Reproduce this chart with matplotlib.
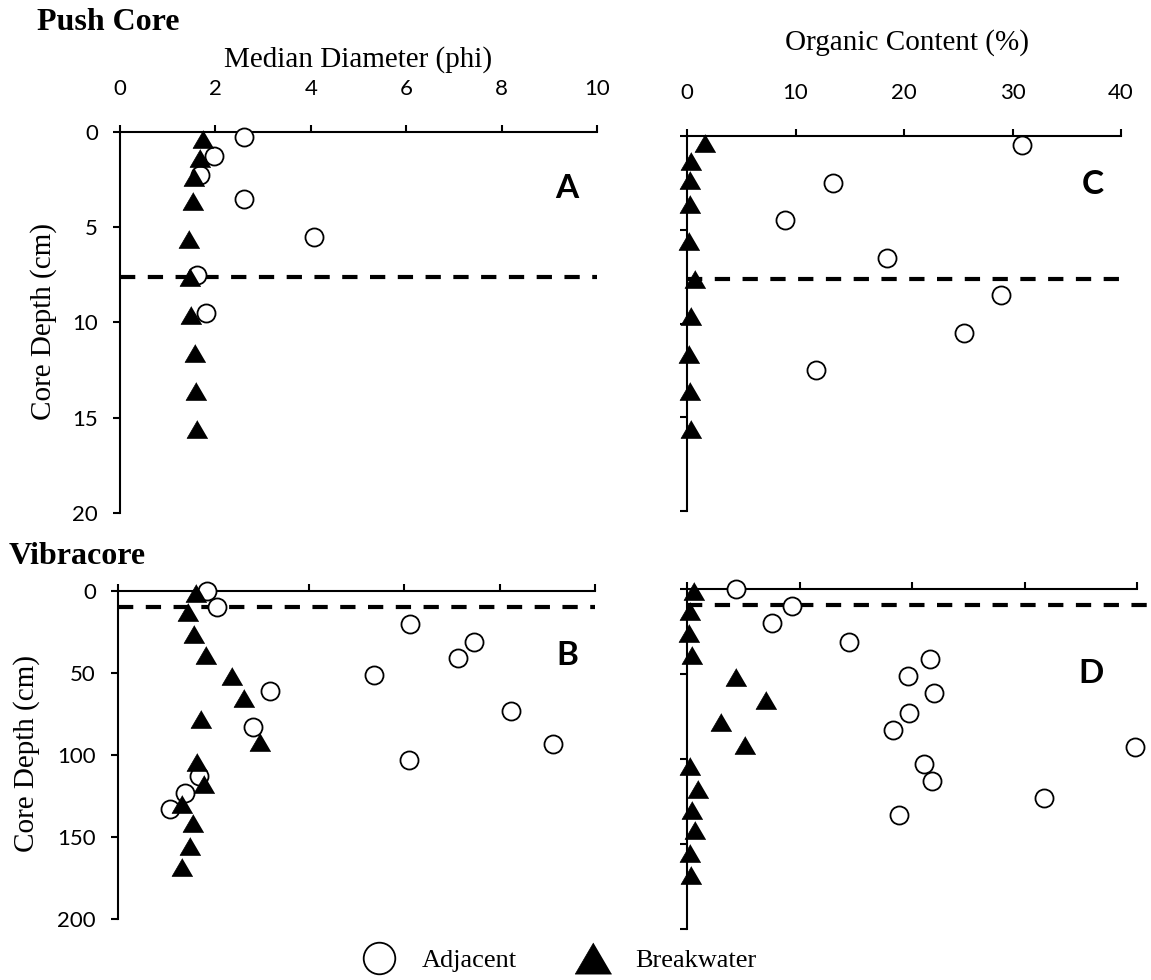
import matplotlib
matplotlib.use("Agg")
import matplotlib.pyplot as plt

plt.rcParams["lines.scale_dashes"] = False

# ---- Push core (depth in cm) ----
pc_adj_depth = [0.25, 1.25, 2.25, 3.5, 5.5, 7.5, 9.5]
pc_adj_phi = [2.60, 1.98, 1.68, 2.61, 4.07, 1.62, 1.81]
pc_adj_org_depth = [0.5, 2.5, 4.5, 6.5, 8.5, 10.5, 12.5]
pc_adj_org = [30.9, 13.5, 9.0, 18.4, 28.9, 25.5, 11.9]
pc_bw_depth = [0.35, 1.35, 2.35, 3.6, 5.6, 7.6, 9.6, 11.6, 13.6, 15.6]
pc_bw_phi = [1.74, 1.68, 1.56, 1.54, 1.44, 1.46, 1.49, 1.58, 1.60, 1.62]
pc_bw_org = [1.7, 0.4, 0.25, 0.25, 0.15, 0.7, 0.35, 0.2, 0.3, 0.35]
pc_boundary = 7.6

# ---- Vibracore (depth in cm) ----
vc_adj_depth = [0, 10, 20, 31, 41, 51, 61, 73, 83, 93, 103, 113, 123, 133]
vc_adj_phi = [1.87, 2.08, 6.12, 7.47, 7.12, 5.36, 3.19, 8.23, 2.82, 9.11,
              6.10, 1.69, 1.40, 1.10]
vc_adj_org = [4.36, 9.30, 7.59, 14.39, 21.6, 19.66, 21.96, 19.72, 18.33, 39.8,
              21.05, 21.8, 31.75, 18.8]
vc_bw_depth = [1, 13, 26, 39, 52, 65.5, 78, 92, 104, 117.5, 130, 141.5, 155.5, 168]
vc_bw_phi = [1.63, 1.46, 1.60, 1.85, 2.38, 2.65, 1.75, 2.98, 1.65, 1.80,
             1.35, 1.58, 1.50, 1.34]
vc_bw_org = [0.6, 0.3, 0.2, 0.45, 4.33, 7.04, 3.01, 5.18, 0.27, 1.02,
             0.45, 0.75, 0.27, 0.36]
vc_boundary = 9.5

series_names = ["Adjacent", "Breakwater"]
phi_ticks = [0, 2, 4, 6, 8, 10]
org_ticks = [0, 10, 20, 30, 40]
pc_depth_ticks = [0, 5, 10, 15, 20]
vc_depth_ticks = [0, 50, 100, 150, 200]

W, H = 1151, 980
fig = plt.figure(figsize=(W / 100, H / 100), dpi=100)

SERIF = "Liberation Serif"
SANS = "Lato"
TRI = [(0, 1), (-1.17, -1), (1.17, -1)]


def box(l, t, r, b):
    return [l / W, 1 - b / H, (r - l) / W, (b - t) / H]


def style(ax, xticks, yticks, xlabels, ylabels):
    ax.set_xlim(xticks[0], xticks[-1])
    ax.set_ylim(yticks[-1], yticks[0])
    ax.set_xticks(xticks)
    ax.set_yticks(yticks)
    ax.xaxis.tick_top()
    for s in ("right", "bottom"):
        ax.spines[s].set_visible(False)
    for s in ("left", "top"):
        ax.spines[s].set_linewidth(1.5)
    ax.tick_params(direction="out", length=5, width=1.5, labelsize=16)
    ax.tick_params(axis="x", pad=19, labeltop=xlabels, labelbottom=False)
    ax.tick_params(axis="y", pad=11, labelleft=ylabels)
    for lab in ax.get_xticklabels() + ax.get_yticklabels():
        lab.set_family(SANS)
    ax.patch.set_alpha(0)


def draw(ax, adj_x, adj_y, bw_x, bw_y):
    a, = ax.plot(adj_x, adj_y, ls="none", marker="o", ms=13, mfc="white",
                 mec="black", mew=1.3, zorder=3, clip_on=False)
    b, = ax.plot(bw_x, bw_y, ls="none", marker=TRI, ms=15, mfc="black",
                 mec="black", mew=0.5, zorder=4, clip_on=False)
    return a, b


axA = fig.add_axes(box(120, 132, 597, 513))
axC = fig.add_axes(box(687, 136, 1121, 511))
axB = fig.add_axes(box(118, 591, 595, 919))
axD = fig.add_axes(box(687, 589, 1137, 929))

style(axA, phi_ticks, pc_depth_ticks, True, True)
style(axC, org_ticks, pc_depth_ticks, True, False)
style(axB, phi_ticks, vc_depth_ticks, False, True)
style(axD, org_ticks, vc_depth_ticks, False, False)

dash = dict(color="black", lw=3, ls=(0, (11, 9)), zorder=2)
axA.plot([0, phi_ticks[-1]], [pc_boundary] * 2, **dash)
axC.plot([0, org_ticks[-1]], [pc_boundary] * 2, **dash)
axB.plot([0, phi_ticks[-1]], [vc_boundary] * 2, **dash)
axD.plot([0, 44], [vc_boundary] * 2, clip_on=False, **dash)

h_adj, h_bw = draw(axA, pc_adj_phi, pc_adj_depth, pc_bw_phi, pc_bw_depth)
draw(axC, pc_adj_org, pc_adj_org_depth, pc_bw_org, pc_bw_depth)
draw(axB, vc_adj_phi, vc_adj_depth, vc_bw_phi, vc_bw_depth)
draw(axD, vc_adj_org, vc_adj_depth, vc_bw_org, vc_bw_depth)

# Section headings and axis titles
fig.text(37 / W, 1 - 22 / H, "Push Core", family=SERIF, weight="bold",
         fontsize=23, ha="left", va="center")
fig.text(9 / W, 1 - 556 / H, "Vibracore", family=SERIF, weight="bold",
         fontsize=23, ha="left", va="center")
fig.text(358 / W, 1 - 60 / H, "Median Diameter (phi)", family=SERIF,
         fontsize=21, ha="center", va="center")
fig.text(907 / W, 1 - 43 / H, "Organic Content (%)", family=SERIF,
         fontsize=21, ha="center", va="center")
fig.text(44 / W, 1 - 322 / H, "Core Depth (cm)", family=SERIF, fontsize=21,
         rotation=90, ha="center", va="center")
fig.text(27 / W, 1 - 753 / H, "Core Depth (cm)", family=SERIF, fontsize=21,
         rotation=90, ha="center", va="center")

# Panel letters
for txt, x, y in (("A", 567, 188), ("C", 1093, 185), ("B", 567, 655), ("D", 1091, 673)):
    fig.text(x / W, 1 - y / H, txt, family=SANS, weight="bold", fontsize=24,
             ha="center", va="center")

fig.legend([h_adj, h_bw], series_names, loc="center left",
           bbox_to_anchor=(366 / W, 1 - 960 / H), ncol=2, frameon=False,
           markerscale=1.75, handlelength=1.0, handletextpad=1.1,
           columnspacing=2.4, borderpad=0, borderaxespad=0,
           prop={"family": SERIF, "size": 19})

fig.savefig("out.png", dpi=100)
